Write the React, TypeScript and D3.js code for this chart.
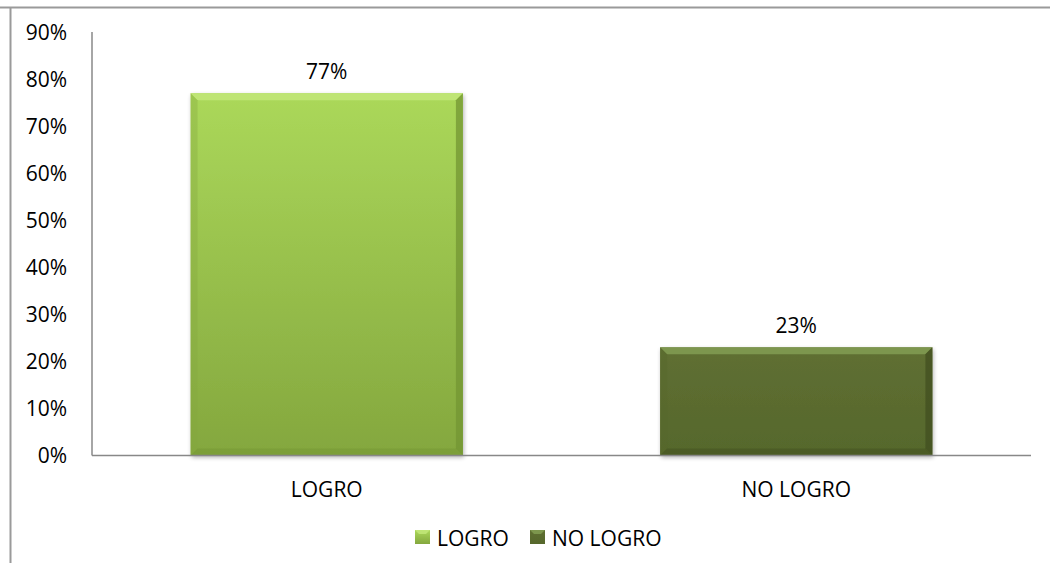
import React from "react";
import * as d3 from "d3";

const categories = ["LOGRO", "NO LOGRO"];
const values = [0.77, 0.23];
const valueLabels = ["77%", "23%"];
const yTicks = [0, 0.1, 0.2, 0.3, 0.4, 0.5, 0.6, 0.7, 0.8, 0.9];

const W = 1050;
const H = 563;
const left = 92;
const right = 1031;
const top = 32;
const bottom = 455.5;
const font = "'Open Sans', 'DejaVu Sans', sans-serif";
const fs = 21;

const colorsTop = ["#abd85a", "#5f6f32"];
const colorsBot = ["#84a73e", "#56682c"];
const edgeLight = ["#c4e87c", "#85a055"];
const edgeDark = ["#739533", "#414f20"];

export default function App() {
  const x = d3.scaleBand<string>().domain(categories).range([left, right]).paddingInner(0.42).paddingOuter(0.21);
  const y = d3.scaleLinear().domain([0, 0.9]).range([bottom, top]);
  const bw = x.bandwidth();
  const bev = 7;
  return (
    <svg width={W} height={H} style={{ position: "absolute", left: 0, top: 0 }}>
      <defs>
        {categories.map((c, i) => (
          <linearGradient key={c} id={`g${i}`} x1="0" y1="0" x2="0" y2="1">
            <stop offset="0" stopColor={colorsTop[i]} />
            <stop offset="1" stopColor={colorsBot[i]} />
          </linearGradient>
        ))}
        <filter id="sh" x="-10%" y="-10%" width="120%" height="120%">
          <feGaussianBlur in="SourceAlpha" stdDeviation="2" />
          <feOffset dx="1" dy="2" />
          <feComponentTransfer>
            <feFuncA type="linear" slope="0.3" />
          </feComponentTransfer>
          <feMerge>
            <feMergeNode />
            <feMergeNode in="SourceGraphic" />
          </feMerge>
        </filter>
      </defs>
      <rect x={0} y={0} width={W} height={H} fill="#fff" />
      <line x1={0} x2={W} y1={7.5} y2={7.5} stroke="#9a9a9a" strokeWidth={2} />
      <line x1={10.5} x2={10.5} y1={7} y2={H} stroke="#9a9a9a" strokeWidth={2} />

      {yTicks.map((t) => (
        <text key={t} x={67} y={y(t)} dy="0.36em" textAnchor="end" fontFamily={font} fontSize={fs} fill="#000">
          {`${Math.round(t * 100)}%`}
        </text>
      ))}

      {categories.map((c, i) => {
        const x0 = x(c)!;
        const x1 = x0 + bw;
        const y0 = y(values[i]);
        const y1 = y(0);
        return (
          <g key={c}>
            <g filter="url(#sh)">
              <rect x={x0} y={y0} width={bw} height={y1 - y0} fill={`url(#g${i})`} />
            </g>
            <polygon points={`${x0},${y0} ${x1},${y0} ${x1 - bev},${y0 + bev} ${x0 + bev},${y0 + bev}`} fill={edgeLight[i]} opacity={0.8} />
            <polygon points={`${x0},${y0} ${x0 + bev},${y0 + bev} ${x0 + bev},${y1 - bev} ${x0},${y1}`} fill={colorsBot[i]} opacity={0.35} />
            <polygon points={`${x1},${y0} ${x1},${y1} ${x1 - bev},${y1 - bev} ${x1 - bev},${y0 + bev}`} fill={edgeDark[i]} opacity={0.75} />
            <polygon points={`${x0},${y1} ${x0 + bev},${y1 - bev} ${x1 - bev},${y1 - bev} ${x1},${y1}`} fill={edgeDark[i]} opacity={0.5} />
            <text x={x0 + bw / 2} y={y0 - 14} textAnchor="middle" fontFamily={font} fontSize={fs} fill="#000">
              {valueLabels[i]}
            </text>
            <text x={x0 + bw / 2} y={497} textAnchor="middle" fontFamily={font} fontSize={fs} fill="#000">
              {c}
            </text>
          </g>
        );
      })}

      <line x1={left} x2={left} y1={top} y2={bottom} stroke="#888" strokeWidth={1.5} />
      <line x1={left} x2={right} y1={bottom} y2={bottom} stroke="#888" strokeWidth={1.5} />

      {categories.map((c, i) => {
        const lx = [415, 530][i];
        return (
          <g key={`l${c}`}>
            <rect x={lx} y={530} width={15} height={14} fill={`url(#g${i})`} />
            <polygon points={`${lx},530 ${lx + 15},530 ${lx + 11},534 ${lx + 4},534`} fill={edgeLight[i]} opacity={0.8} />
            <text x={lx + 22} y={538} dy="0.36em" fontFamily={font} fontSize={fs} fill="#000">
              {c}
            </text>
          </g>
        );
      })}
    </svg>
  );
}
